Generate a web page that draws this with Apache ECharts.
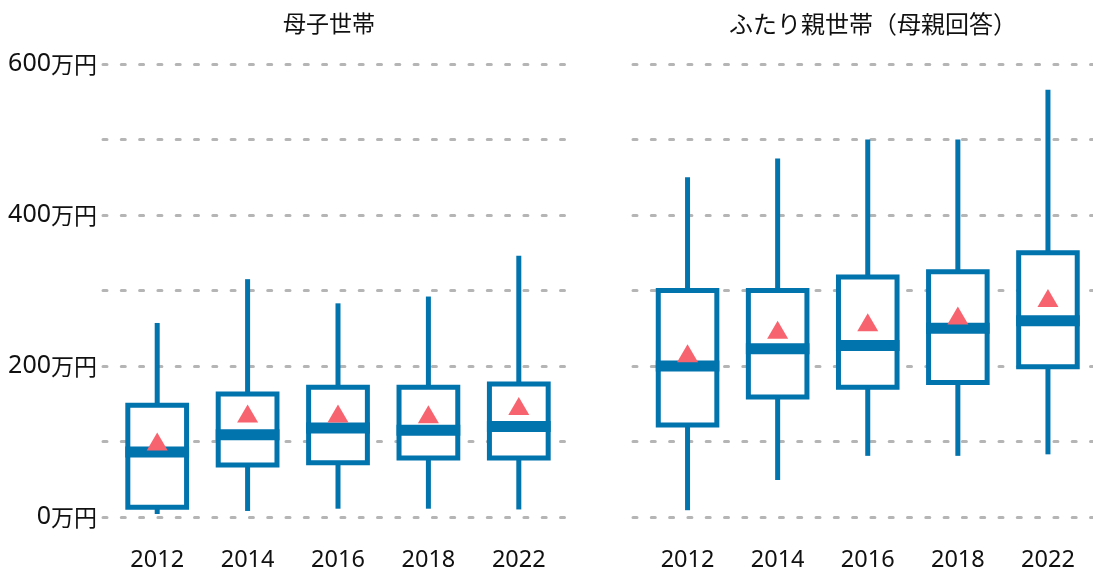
<!DOCTYPE html>
<html>
<head>
<meta charset="utf-8">
<script src="https://cdn.jsdelivr.net/npm/echarts@6/dist/echarts.min.js"></script>
<style>
html,body{margin:0;padding:0;background:#fff;}
#c{width:1093px;height:576px;}
</style>
</head>
<body>
<div id="c"></div>
<script>
// ---- data (万円) ----
const categories = ['2012', '2014', '2016', '2018', '2022'];
const panelTitles = ['母子世帯', 'ふたり親世帯（母親回答）'];
const yTicks = [0, 100, 200, 300, 400, 500, 600];
const yLabelUnit = '万円';

// 母子世帯
const singleMin    = [4, 8, 11, 11, 10];
const singleQ1     = [13, 69, 72, 78, 78];
const singleMedian = [86, 109, 118, 115, 120];
const singleQ3     = [148, 163, 172, 172, 176];
const singleMax    = [257, 315, 283, 292, 346];
const singleMean   = [100, 137, 137, 136, 147];

// ふたり親世帯(母親回答)
const twoMin    = [9, 49, 81, 81, 83];
const twoQ1     = [122, 159, 172, 178, 199];
const twoMedian = [200, 223, 227, 250, 260];
const twoQ3     = [300, 300, 318, 325, 350];
const twoMax    = [450, 475, 500, 500, 566];
const twoMean   = [217, 248, 258, 267, 290];

const BLUE = '#0173ad';
const PINK = '#f7646f';
const GRID_GRAY = '#b5b5b5';
const NUM_FONT = '"Noto Sans", sans-serif';
const CJK_FONT = '"Noto Sans CJK JP", sans-serif';

function boxData(mn, q1, md, q3, mx) {
  return categories.map((c, i) => [i, mn[i], q1[i], md[i], q3[i], mx[i]]);
}

function renderBox(params, api) {
  const x = api.value(0);
  const pMin = api.coord([x, api.value(1)]);
  const pQ1 = api.coord([x, api.value(2)]);
  const pMed = api.coord([x, api.value(3)]);
  const pQ3 = api.coord([x, api.value(4)]);
  const pMax = api.coord([x, api.value(5)]);
  const band = api.size([1, 0])[0];
  const w = band * 0.65;
  const cx = pQ1[0];
  const lw = 5;
  return {
    type: 'group',
    children: [
      { type: 'line', shape: { x1: cx, y1: pMin[1], x2: cx, y2: pQ1[1] }, style: { stroke: BLUE, lineWidth: lw } },
      { type: 'line', shape: { x1: cx, y1: pQ3[1], x2: cx, y2: pMax[1] }, style: { stroke: BLUE, lineWidth: lw } },
      { type: 'rect', shape: { x: cx - w / 2, y: pQ3[1], width: w, height: pQ1[1] - pQ3[1] }, style: { fill: '#fff', stroke: BLUE, lineWidth: lw } },
      { type: 'rect', shape: { x: cx - w / 2 - lw / 2, y: pMed[1] - 5.5, width: w + lw, height: 11 }, style: { fill: BLUE } }
    ]
  };
}

const splitLineStyle = { show: true, lineStyle: { color: GRID_GRAY, width: 3, type: [4, 14.3], cap: 'round' } };

const xLabel = { margin: 31, fontSize: 23.5, color: '#111', fontFamily: NUM_FONT };

const option = {
  backgroundColor: '#fff',
  animation: false,
  title: [
    { text: panelTitles[0], left: 324, top: 7, textAlign: 'center', textStyle: { fontFamily: CJK_FONT, fontSize: 23, fontWeight: 'normal', color: '#111' } },
    { text: panelTitles[1], left: 868, top: 7, textAlign: 'center', textStyle: { fontFamily: CJK_FONT, fontSize: 24, fontWeight: 'normal', color: '#111' } }
  ],
  grid: [
    { left: 103, top: 64, width: 464, height: 453 },
    { left: 112, top: 64, width: 452, height: 453 },
    { left: 633, top: 64, width: 462, height: 453 },
    { left: 642.5, top: 64, width: 452, height: 453 }
  ],
  xAxis: [
    { type: 'value', gridIndex: 0, show: false, min: 0, max: 1 },
    { type: 'category', gridIndex: 1, data: categories, boundaryGap: true,
      axisLine: { show: false }, axisTick: { show: false }, splitLine: { show: false },
      axisLabel: xLabel },
    { type: 'value', gridIndex: 2, show: false, min: 0, max: 1 },
    { type: 'category', gridIndex: 3, data: categories, boundaryGap: true,
      axisLine: { show: false }, axisTick: { show: false }, splitLine: { show: false },
      axisLabel: xLabel }
  ],
  yAxis: [
    { type: 'value', gridIndex: 0, min: yTicks[0], max: yTicks[yTicks.length - 1], interval: 100,
      axisLine: { show: false }, axisTick: { show: false }, splitLine: splitLineStyle,
      axisLabel: { margin: 6, color: '#111',
        formatter: v => (v % 200 === 0 ? '{n|' + v + '}{u|' + yLabelUnit + '}' : ''),
        rich: {
          n: { fontFamily: NUM_FONT, fontSize: 25, color: '#111' },
          u: { fontFamily: CJK_FONT, fontSize: 23, color: '#111' }
        } } },
    { type: 'value', gridIndex: 1, min: 0, max: 600, interval: 100, show: false, splitLine: { show: false } },
    { type: 'value', gridIndex: 2, min: yTicks[0], max: yTicks[yTicks.length - 1], interval: 100,
      axisLine: { show: false }, axisTick: { show: false }, splitLine: splitLineStyle,
      axisLabel: { show: false } },
    { type: 'value', gridIndex: 3, min: 0, max: 600, interval: 100, show: false, splitLine: { show: false } }
  ],
  series: [
    { type: 'custom', xAxisIndex: 1, yAxisIndex: 1, renderItem: renderBox, z: 2,
      encode: { x: 0, y: [1, 2, 3, 4, 5] },
      data: boxData(singleMin, singleQ1, singleMedian, singleQ3, singleMax) },
    { type: 'scatter', xAxisIndex: 1, yAxisIndex: 1, symbol: 'triangle', symbolSize: [21, 18], z: 5,
      itemStyle: { color: PINK, opacity: 1 }, data: categories.map((c, i) => [i, singleMean[i]]) },
    { type: 'custom', xAxisIndex: 3, yAxisIndex: 3, renderItem: renderBox, z: 2,
      encode: { x: 0, y: [1, 2, 3, 4, 5] },
      data: boxData(twoMin, twoQ1, twoMedian, twoQ3, twoMax) },
    { type: 'scatter', xAxisIndex: 3, yAxisIndex: 3, symbol: 'triangle', symbolSize: [21, 18], z: 5,
      itemStyle: { color: PINK, opacity: 1 }, data: categories.map((c, i) => [i, twoMean[i]]) }
  ]
};

const chart = echarts.init(document.getElementById('c'), null, { renderer: 'canvas' });
chart.setOption(option);
</script>
</body>
</html>
